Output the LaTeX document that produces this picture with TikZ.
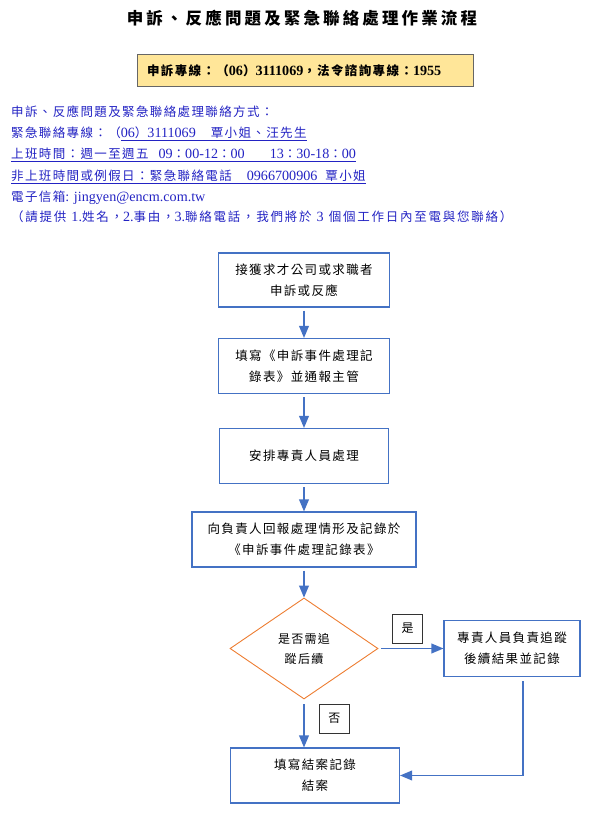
\documentclass[tikz,border=0pt]{standalone}
\usepackage{fontspec}
\setmainfont{Noto Sans CJK TC}[LetterSpace=11]
\newfontfamily\lat{Liberation Serif}[Scale=1.13]
\usetikzlibrary{shapes.geometric, arrows}

\definecolor{boxblue}{HTML}{4472C4}
\definecolor{diamondorange}{HTML}{ED7D31}
\definecolor{infoblue}{HTML}{2323C3}
\definecolor{hotlineyellow}{HTML}{FFE699}

\tikzstyle{title} = [
    font=\fontsize{16.5pt}{18pt}\selectfont\bfseries\addfontfeatures{LetterSpace=19}
]
\tikzstyle{hotline} = [
    rectangle,
    minimum width=336pt,
    minimum height=32pt,
    text width=316pt,
    align=left,
    fill=hotlineyellow,
    draw=black!60,
    line width=1pt,
    font=\fontsize{12.5pt}{15pt}\selectfont\bfseries
]
\tikzstyle{infoline} = [
    anchor=base west,
    inner sep=0pt,
    text=infoblue,
    font=\fontsize{12.5pt}{15pt}\selectfont
]
\tikzstyle{process} = [
    rectangle,
    minimum width=171pt,
    minimum height=55pt,
    draw=boxblue,
    line width=1.2pt,
    align=center,
    font=\fontsize{12.5pt}{21pt}\selectfont
]
\tikzstyle{decision} = [
    diamond,
    minimum width=148pt,
    minimum height=101pt,
    inner sep=0pt,
    draw=diamondorange,
    line width=0.9pt,
    align=center,
    font=\fontsize{12pt}{20pt}\selectfont
]
\tikzstyle{answer} = [
    rectangle,
    minimum width=30pt,
    minimum height=29pt,
    draw=black!80,
    line width=0.9pt,
    font=\fontsize{12pt}{14pt}\selectfont
]
\tikzstyle{arrow} = [line width=1.8pt, draw=boxblue, ->, >=triangle 45, shorten <=3pt]

\begin{document}
\begin{tikzpicture}[x=1pt, y=1pt, node distance=86pt]
\useasboundingbox (0,0) rectangle (593,816);

\node (title) [title] at (302,798) {申訴、反應問題及緊急聯絡處理作業流程};

\node (hotline) [hotline] at (305,745)
{申訴專線：（{\lat 06}）{\lat 3111069}，法令諮詢專線：{\lat 1955}};

% contact information
\node (howto) [infoline] at (11,699) {申訴、反應問題及緊急聯絡處理聯絡方式：};
\node (phone) [infoline] at (11,678)
{緊急聯絡專線：（\underline{{\lat 06}）{\lat 3111069}\hspace{15pt}覃小姐、汪先生}};
\node (hours) [infoline] at (11,657)
{\underline{上班時間：週一至週五\hspace{10pt}{\lat 09}：{\lat 00-12}：{\lat 00}\hspace{25pt}{\lat 13}：{\lat 30-18}：{\lat 00}}};
\node (offhours) [infoline] at (11,635)
{\underline{非上班時間或例假日：緊急聯絡電話\hspace{15pt}{\lat 0966700906}\hspace{8pt}覃小姐}};
\node (email) [infoline] at (11,614) {電子信箱{\lat : jingyen@encm.com.tw}};
\node (note) [infoline, font=\fontsize{12.5pt}{15pt}\selectfont\addfontfeatures{LetterSpace=14}] at (11,594)
{（請提供\hspace{5pt}{\lat 1.}姓名，{\lat 2.}事由，{\lat 3.}聯絡電話，我們將於\hspace{5pt}{\lat 3}\hspace{5pt}個個工作日內至電與您聯絡）};

% flow chart
\node (receive) [process, minimum height=54pt] at (304,536)
{接獲求才公司或求職者\\申訴或反應};

\node (fillform) [process, below of=receive]
{填寫《申訴事件處理記\\錄表》並通報主管};

\node (assign) [process, below of=fillform, yshift=-4pt, minimum width=169pt]
{安排專責人員處理};

\node (report) [process, below of=assign, yshift=2.5pt, minimum width=224pt]
{向負責人回報處理情形及記錄於\\《申訴事件處理記錄表》};

\node (followup) [decision, below of=report, yshift=-23pt]
{是否需追\\蹤后續};

\node (track) [process, right of=followup, xshift=122pt, minimum width=136pt, minimum height=56pt]
{專責人員負責追蹤\\後續結果並記錄};

\node (closecase) [process, below of=followup, xshift=11pt, yshift=-41pt, minimum width=169pt]
{填寫結案記錄\\結案};

\draw [arrow] (receive) -- (fillform);
\draw [arrow] (fillform) -- (assign);
\draw [arrow] (assign) -- (report);
\draw [arrow] (report) -- (followup);

\draw [arrow] (followup) -- node[answer, above=5pt, pos=0.45] (yes) {是} (track);
\draw [arrow, shorten <=5pt] (followup.south) -- node[answer, right=15pt, pos=0.4] (no) {否} (followup.south |- closecase.north);

\draw [arrow, shorten <=4pt] ([xshift=11pt]track.south) |- (closecase.east);

\end{tikzpicture}
\end{document}
